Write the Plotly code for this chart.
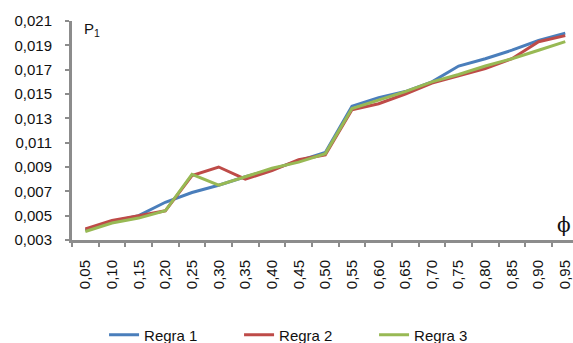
import plotly.graph_objects as go

# φ values (category labels, decimal comma)
phi = ["0,05", "0,10", "0,15", "0,20", "0,25", "0,30", "0,35", "0,40", "0,45", "0,50",
       "0,55", "0,60", "0,65", "0,70", "0,75", "0,80", "0,85", "0,90", "0,95"]

# P1 for each rule
regra1 = [0.0038, 0.0045, 0.0050, 0.0061, 0.0069, 0.0075, 0.0082, 0.0088, 0.0095, 0.0102,
          0.0140, 0.0147, 0.0152, 0.0160, 0.0173, 0.0179, 0.0186, 0.0194, 0.0200]
regra2 = [0.0039, 0.0046, 0.0050, 0.0054, 0.0083, 0.0090, 0.0080, 0.0087, 0.0096, 0.0100,
          0.0137, 0.0142, 0.0150, 0.0159, 0.0165, 0.0171, 0.0179, 0.0193, 0.0198]
regra3 = [0.0037, 0.0044, 0.0048, 0.0054, 0.0084, 0.0075, 0.0082, 0.0089, 0.0094, 0.0101,
          0.0138, 0.0145, 0.0152, 0.0160, 0.0166, 0.0173, 0.0179, 0.0186, 0.0193]

y_ticks = [0.003, 0.005, 0.007, 0.009, 0.011, 0.013, 0.015, 0.017, 0.019, 0.021]

series = [
    ("Regra 1", regra1, "#4A7EBB"),
    ("Regra 2", regra2, "#BE4B48"),
    ("Regra 3", regra3, "#98B954"),
]

font_family = "Liberation Sans, Arial, sans-serif"
axis_grey = "#8C8C8C"

fig = go.Figure()
for name, vals, color in series:
    fig.add_trace(go.Scatter(
        x=phi, y=vals, name=name, mode="lines",
        line=dict(color=color, width=3),
    ))

fig.update_layout(
    width=573, height=343,
    margin=dict(l=72, r=0, t=21, b=103),
    paper_bgcolor="white", plot_bgcolor="white",
    separators=", ",
    font=dict(family=font_family, size=15, color="#111111"),
    showlegend=True,
    legend=dict(
        orientation="h",
        xref="container", yref="container",
        x=0.535, xanchor="center",
        y=0.023, yanchor="middle",
        font=dict(size=15),
        entrywidth=90, entrywidthmode="pixels",
        itemwidth=30,
    ),
    xaxis=dict(
        type="category",
        range=[-0.5, 18.29],
        tickson="boundaries",
        ticks="outside", ticklen=4, tickwidth=2, tickcolor=axis_grey,
        showline=True, linecolor=axis_grey, linewidth=3,
        showgrid=False, zeroline=False,
        tickangle=-90,
        tickfont=dict(size=15),
        ticklabelstandoff=11,
    ),
    yaxis=dict(
        range=[0.003, 0.021],
        tickvals=y_ticks,
        tickformat=".3f",
        ticks="outside", ticklen=4, tickwidth=2, tickcolor=axis_grey,
        showline=True, linecolor=axis_grey, linewidth=3,
        showgrid=False, zeroline=False,
        tickfont=dict(size=15),
        ticklabelstandoff=10,
    ),
)

fig.add_annotation(
    text="P<sub>1</sub>", xref="paper", yref="paper",
    x=0.02, y=0.96, xanchor="left", yanchor="middle",
    showarrow=False, font=dict(size=15),
)
fig.add_annotation(
    text="ϕ", xref="paper", yref="paper",
    x=1.0, y=0.07, xanchor="right", yanchor="middle",
    showarrow=False, font=dict(size=20, family="DejaVu Serif"),
)

fig.write_html("out.html")
